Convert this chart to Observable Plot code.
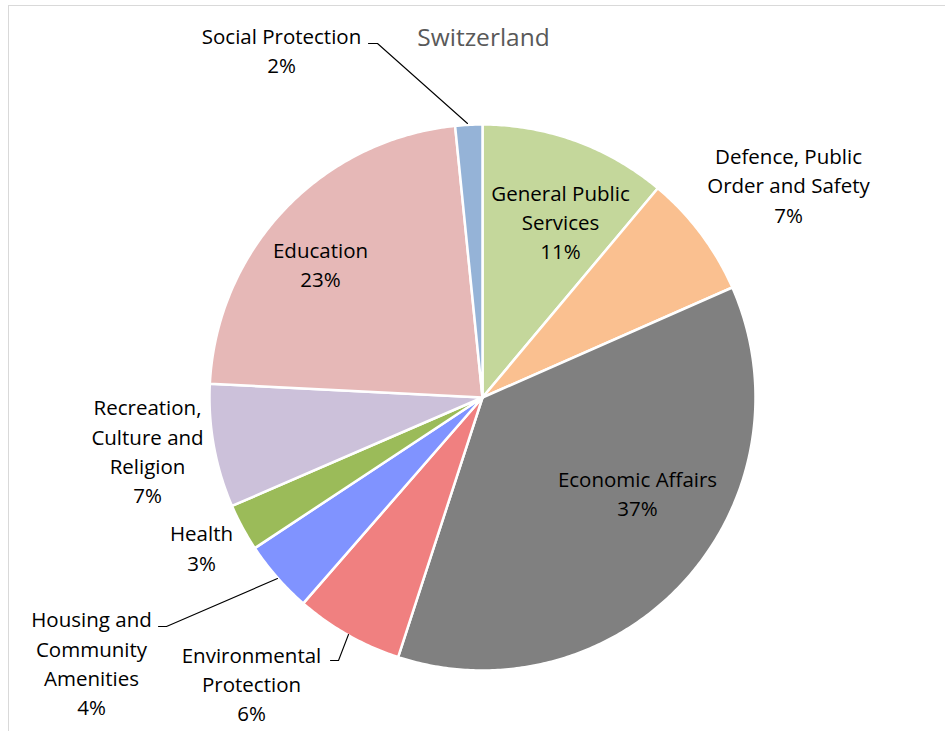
<!DOCTYPE html>
<html>
<head>
<meta charset="utf-8">
<script src="https://cdn.jsdelivr.net/npm/d3@7"></script>
<script src="https://cdn.jsdelivr.net/npm/@observablehq/plot@0.6"></script>
<style>
  html, body { margin: 0; padding: 0; background: #fff; overflow: hidden; }
  #wrap { position: relative; width: 945px; height: 731px; }
  #border { position: absolute; left: 8px; top: 5px; width: 1000px; height: 800px; border: 1px solid #d9d9d9; box-sizing: border-box; }
  #chart { position: absolute; left: 0; top: 0; }
</style>
</head>
<body>
<div id="wrap"><div id="border"></div><div id="chart"></div></div>
<script>
// ---- data ----
const title = "Switzerland";
const categories = [
  "General Public Services",
  "Defence, Public Order and Safety",
  "Economic Affairs",
  "Environmental Protection",
  "Housing and Community Amenities",
  "Health",
  "Recreation, Culture and Religion",
  "Education",
  "Social Protection"
];
const shares = [11.1, 7.3, 36.6, 6.4, 4.3, 2.8, 7.3, 22.6, 1.6];
const labelLines = [
  "General Public\nServices",
  "Defence, Public\nOrder and Safety",
  "Economic Affairs",
  "Environmental\nProtection",
  "Housing and\nCommunity\nAmenities",
  "Health",
  "Recreation,\nCulture and\nReligion",
  "Education",
  "Social Protection"
];
const colors = ["#C4D79B", "#FAC090", "#808080", "#F08080", "#8093FF", "#9BBB59", "#CCC1DA", "#E6B8B7", "#95B3D7"];

// ---- layout (pixels) ----
const W = 945, H = 731;
const CX = 482, CY = 397, R = 273;
// label block centres (page pixels)
const labelAt = {
  "General Public Services": [560, 220],
  "Defence, Public Order and Safety": [788, 183.5],
  "Economic Affairs": [637, 491.5],
  "Environmental Protection": [251, 682],
  "Housing and Community Amenities": [91, 661.5],
  "Health": [201, 546],
  "Recreation, Culture and Religion": [147, 449.5],
  "Education": [320, 262.5],
  "Social Protection": [281, 48.5]
};
// leader lines (page pixels)
const leaders = {
  "Social Protection": [[368, 43], [377, 43], [467, 123]],
  "Housing and Community Amenities": [[158, 626], [166, 626], [277, 578]],
  "Environmental Protection": [[330, 660], [338, 660], [348, 634]]
};

// ---- build slices with d3.pie ----
const pie = d3.pie().sort(null).value(d => d.share).startAngle(0).endAngle(2 * Math.PI);
const rows = categories.map((c, i) => ({name: c, share: shares[i], label: labelLines[i], color: colors[i]}));
const arcs = pie(rows);
const slicePts = [];
for (const a of arcs) {
  const n = Math.max(4, Math.ceil((a.endAngle - a.startAngle) / 0.01));
  slicePts.push({name: a.data.name, x: 0, y: 0});
  for (let k = 0; k <= n; k++) {
    const t = a.startAngle + (a.endAngle - a.startAngle) * k / n;
    slicePts.push({name: a.data.name, x: Math.sin(t), y: Math.cos(t)});
  }
  slicePts.push({name: a.data.name, x: 0, y: 0});
}
// pixel -> data units (unit circle)
const ux = px => (px - CX) / R;
const uy = py => (CY - py) / R;

const labels = rows.map(r => ({
  name: r.name,
  text: r.label + "\n" + Math.round(r.share) + "%",
  x: ux(labelAt[r.name][0]),
  y: uy(labelAt[r.name][1])
}));
const leaderPts = [];
for (const [name, pts] of Object.entries(leaders)) {
  for (const p of pts) leaderPts.push({name, x: ux(p[0]), y: uy(p[1])});
}

const chart = Plot.plot({
  width: W,
  height: H,
  margin: 0,
  x: {domain: [ux(0), ux(W)], range: [0, W], axis: null},
  y: {domain: [uy(H), uy(0)], range: [H, 0], axis: null},
  color: {domain: categories, range: colors},
  style: {fontFamily: "'Open Sans', sans-serif", background: "transparent"},
  marks: [
    Plot.line(slicePts, {x: "x", y: "y", z: "name", fill: "name", stroke: "white", strokeWidth: 2.5, strokeLinejoin: "round", curve: "linear"}),
    Plot.line(leaderPts, {x: "x", y: "y", z: "name", stroke: "black", strokeWidth: 1.1}),
    Plot.text(labels, {x: "x", y: "y", text: "text", fill: "black", fontSize: 20.5, lineHeight: 29.3 / 20.5, textAnchor: "middle", lineAnchor: "middle"}),
    Plot.text([title], {x: ux(483), y: uy(38), text: d => d, fill: "#595959", fontSize: 24.5, textAnchor: "middle", lineAnchor: "middle"})
  ]
});
document.getElementById("chart").appendChild(chart);
</script>
</body>
</html>
